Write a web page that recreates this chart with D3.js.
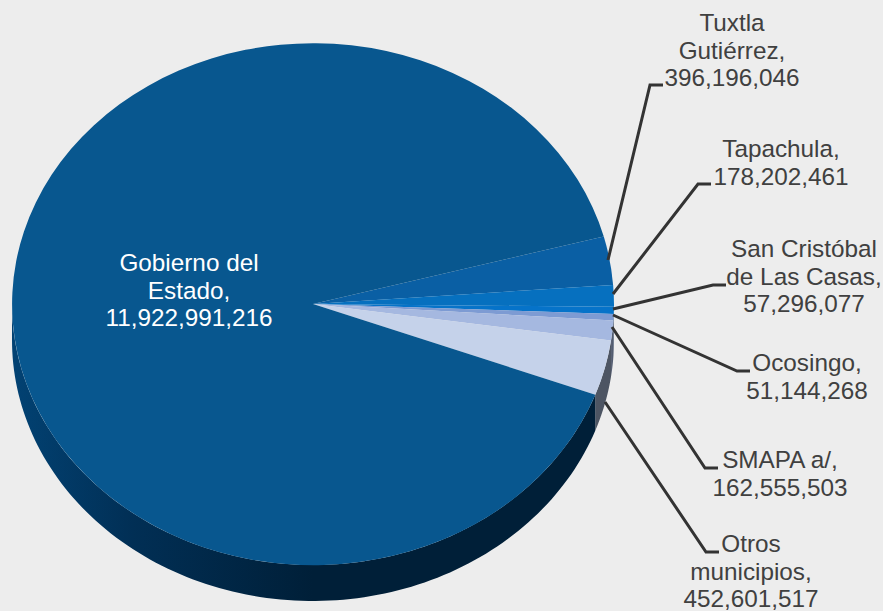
<!DOCTYPE html>
<html>
<head>
<meta charset="utf-8">
<script src="https://cdn.jsdelivr.net/npm/d3@7"></script>
<style>
  html, body { margin: 0; padding: 0; background: #ededed; }
  svg { display: block; }
  text { font-family: "Liberation Sans", Arial, sans-serif; font-size: 24.3px; }
</style>
</head>
<body>
<div id="chart"></div>
<script>
var categories = ['Tuxtla Gutiérrez', 'Tapachula', 'San Cristóbal de Las Casas', 'Ocosingo', 'SMAPA a/', 'Otros municipios', 'Gobierno del Estado'];
var values = [396196046, 178202461, 57296077, 51144268, 162555503, 452601517, 11922991216];
var topColors = ['#0a5fa4', '#0670bf', '#0673c9', '#7d9bd3', '#a5b8e0', '#c5d2ea', '#08578f'];
var sideColors = ['#052f51', '#04385f', '#033964', '#3e4d69', '#525c70', '#4d5563', '#00203a'];
var labelLines = [
    ['Tuxtla', 'Gutiérrez,', '396,196,046'],
    ['Tapachula,', '178,202,461'],
    ['San Cristóbal', 'de Las Casas,', '57,296,077'],
    ['Ocosingo,', '51,144,268'],
    ['SMAPA a/,', '162,555,503'],
    ['Otros', 'municipios,', '452,601,517'],
    ['Gobierno del', 'Estado,', '11,922,991,216']
];

// layout
var width = 883, height = 611;
var cx = 313, cy = 304, rx = 301, ry = 261, depth = 36;
var labelPos = [[732, 31], [781, 157], [804, 257], [807, 371], [780, 468], [751, 552], [189, 271]];
var leaders = [
    [[608, 260], [650, 85], [663, 85]],
    [[613, 294], [698, 184], [711, 184]],
    [[613, 309], [713, 285], [726, 285]],
    [[613, 315], [737, 371], [750, 371]],
    [[612, 327], [705, 468], [718, 468]],
    [[605, 402], [706, 552], [719, 552]]
];

var svg = d3.select('#chart').append('svg')
    .attr('width', width)
    .attr('height', height);

svg.append('rect')
    .attr('width', width)
    .attr('height', height)
    .attr('fill', '#ededed');

// side of the big slice goes from dark blue at the left edge to almost black
var grad = svg.append('defs').append('linearGradient')
    .attr('id', 'sideGrad')
    .attr('gradientUnits', 'userSpaceOnUse')
    .attr('x1', cx - rx).attr('x2', cx + rx)
    .attr('y1', 0).attr('y2', 0);
grad.append('stop').attr('offset', '0').attr('stop-color', '#024273');
grad.append('stop').attr('offset', '0.2').attr('stop-color', '#012f55');
grad.append('stop').attr('offset', '0.5').attr('stop-color', '#001f38');
grad.append('stop').attr('offset', '1').attr('stop-color', '#001f38');

// first slice starts 15 degrees above the 3 o'clock position
var pie = d3.pie().sort(null)
    .startAngle(75 * Math.PI / 180)
    .endAngle(435 * Math.PI / 180);
var arcs = pie(values);
var arc = d3.arc().innerRadius(0).outerRadius(1);

function sidePath(d) {
    // d3 angle 0 is 12 o'clock, the wall shows only for the front half of the ellipse
    var a0 = Math.max(d.startAngle - Math.PI / 2, 0);
    var a1 = Math.min(d.endAngle - Math.PI / 2, Math.PI);
    if (a1 <= a0) return null;
    var p = d3.path();
    p.moveTo(cx + rx * Math.cos(a0), cy + ry * Math.sin(a0));
    var n = 120, i, t;
    for (i = 1; i <= n; i++) {
        t = a0 + (a1 - a0) * i / n;
        p.lineTo(cx + rx * Math.cos(t), cy + ry * Math.sin(t));
    }
    for (i = n; i >= 0; i--) {
        t = a0 + (a1 - a0) * i / n;
        p.lineTo(cx + rx * Math.cos(t), cy + ry * Math.sin(t) + depth);
    }
    p.closePath();
    return p.toString();
}

svg.append('g').selectAll('path')
    .data(arcs)
  .enter().append('path')
    .attr('d', sidePath)
    .attr('fill', function(d, i) { return i == 6 ? 'url(#sideGrad)' : sideColors[i]; });

svg.append('g')
    .attr('transform', 'translate(' + cx + ',' + cy + ') scale(' + rx + ',' + ry + ')')
  .selectAll('path')
    .data(arcs)
  .enter().append('path')
    .attr('d', arc)
    .attr('fill', function(d, i) { return topColors[i]; });

var line = d3.line();
svg.append('g').selectAll('path')
    .data(leaders)
  .enter().append('path')
    .attr('d', line)
    .attr('fill', 'none')
    .attr('stroke', '#333333')
    .attr('stroke-width', 3);

var labels = svg.append('g').selectAll('text')
    .data(categories)
  .enter().append('text')
    .attr('text-anchor', 'middle')
    .attr('fill', function(d, i) { return i == 6 ? '#ffffff' : '#404040'; })
    .attr('transform', function(d, i) { return 'translate(' + labelPos[i][0] + ',' + labelPos[i][1] + ')'; });

labels.selectAll('tspan')
    .data(function(d, i) { return labelLines[i]; })
  .enter().append('tspan')
    .attr('x', 0)
    .attr('y', function(d, i) { return i * 27.5; })
    .text(function(d) { return d; });
</script>
</body>
</html>
